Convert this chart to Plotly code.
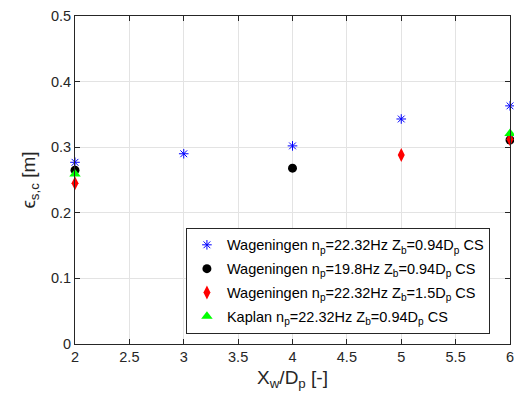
import plotly.graph_objects as go

x_w_blue = [2, 3, 4, 5, 6]
y_w_blue = [0.277, 0.290, 0.302, 0.343, 0.363]
x_w_black = [2, 4, 6]
y_w_black = [0.265, 0.268, 0.311]
x_w_red = [2, 5, 6]
y_w_red = [0.245, 0.288, 0.312]
x_kaplan = [2, 6]
y_kaplan = [0.259, 0.321]

names = [
    "Wageningen n<sub>p</sub>=22.32Hz Z<sub>b</sub>=0.94D<sub>p</sub> CS",
    "Wageningen n<sub>p</sub>=19.8Hz Z<sub>b</sub>=0.94D<sub>p</sub> CS",
    "Wageningen n<sub>p</sub>=22.32Hz Z<sub>b</sub>=1.5D<sub>p</sub> CS",
    "Kaplan n<sub>p</sub>=22.32Hz Z<sub>b</sub>=0.94D<sub>p</sub> CS",
]
x_ticks = [2, 2.5, 3, 3.5, 4, 4.5, 5, 5.5, 6]
y_ticks = [0, 0.1, 0.2, 0.3, 0.4, 0.5]

fig = go.Figure()
fig.add_trace(go.Scatter(x=x_w_blue, y=y_w_blue, mode="markers", name=names[0], legendgroup="a",
                         marker=dict(symbol="asterisk-open", size=8, color="blue",
                                     line=dict(color="blue", width=1)), cliponaxis=False))
fig.add_trace(go.Scatter(x=x_w_black, y=y_w_black, mode="markers", name=names[1], legendgroup="b",
                         marker=dict(symbol="circle", size=9, color="black"), cliponaxis=False))
fig.add_trace(go.Scatter(x=x_w_red, y=y_w_red, mode="markers", name=names[2], legendgroup="c",
                         marker=dict(symbol="diamond-tall", size=10, color="red"), cliponaxis=False))
fig.add_trace(go.Scatter(x=x_kaplan, y=y_kaplan, mode="markers", name=names[3], legendgroup="d",
                         marker=dict(symbol="triangle-up", size=10, color="#00ff00"), cliponaxis=False))

axis_common = dict(showline=True, linecolor="#262626", linewidth=1, mirror="ticks",
                   ticks="inside", ticklen=5, tickcolor="#262626",
                   showgrid=True, gridcolor="#e3e3e3", zeroline=False, automargin=False,
                   ticklabeloverflow="allow",
                   tickfont=dict(size=14.5, color="#262626"))
fig.update_xaxes(range=[2, 6], tickvals=x_ticks, ticktext=[str(t) for t in x_ticks],
                 title=dict(text="X<sub>w</sub>/D<sub>p</sub> [-]", font=dict(size=19, color="#262626"), standoff=6),
                 **axis_common)
fig.update_yaxes(range=[0, 0.5], tickvals=y_ticks, ticktext=["0", "0.1", "0.2", "0.3", "0.4", "0.5"],
                 title=dict(text="ϵ<sub>s,c</sub> [m]", font=dict(size=19, color="#262626"), standoff=10),
                 **axis_common)
fig.update_layout(
    width=514, height=403,
    margin=dict(l=75, r=4, t=16, b=59, autoexpand=False),
    plot_bgcolor="white", paper_bgcolor="white",
    font=dict(family="Liberation Sans, Arial, sans-serif", color="#262626"),
    legend=dict(x=0.255, y=0.354, xanchor="left", yanchor="top",
                bgcolor="white", bordercolor="#262626", borderwidth=1,
                font=dict(size=14.5, color="black"), tracegroupgap=2),
    showlegend=True,
)
fig.write_html("out.html", config={"displayModeBar": False},
               post_script="document.body.style.margin='0';document.body.style.overflow='hidden';")
